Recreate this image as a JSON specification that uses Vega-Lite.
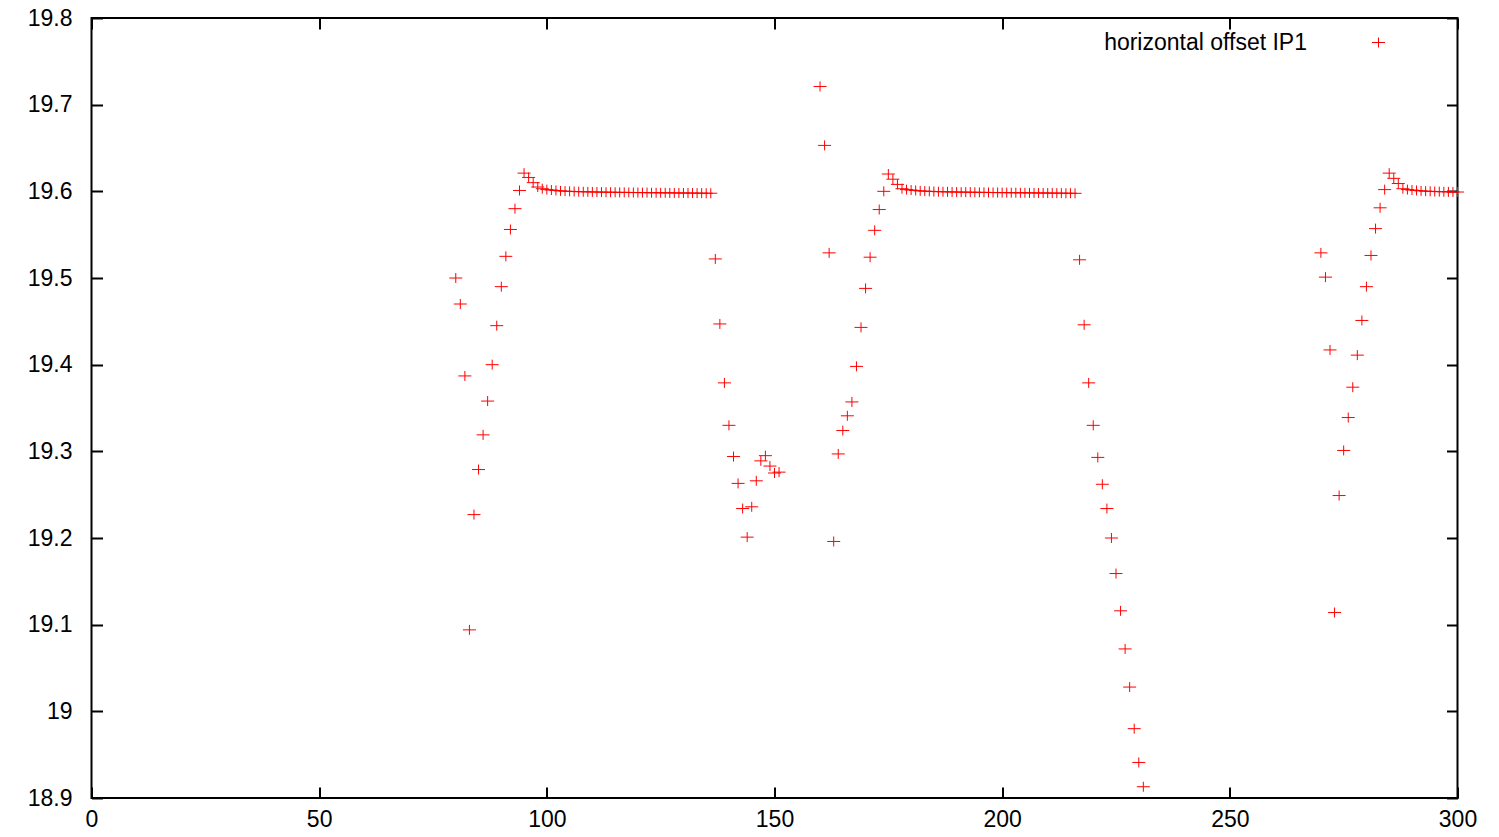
{
  "$schema": "https://vega.github.io/schema/vega-lite/v6.json",
  "width": 1366,
  "height": 780,
  "autosize": {"type": "none"},
  "padding": {"left": 91.5, "top": 18, "right": 41.5, "bottom": 39},
  "background": "white",
  "config": {
    "font": "Liberation Sans",
    "view": {"stroke": "#000000", "strokeWidth": 2},
    "axis": {
      "grid": false,
      "domain": false,
      "tickSize": -11,
      "tickWidth": 2,
      "tickColor": "#000000",
      "labelFont": "Liberation Sans",
      "labelFontSize": 23,
      "labelColor": "#000000",
      "title": null
    }
  },
  "data": {
    "values": [
      {"x": 80, "y": 19.5}, {"x": 81, "y": 19.47}, {"x": 82, "y": 19.387}, {"x": 83, "y": 19.094},
      {"x": 84, "y": 19.227}, {"x": 85, "y": 19.279}, {"x": 86, "y": 19.319}, {"x": 87, "y": 19.358},
      {"x": 88, "y": 19.4}, {"x": 89, "y": 19.445}, {"x": 90, "y": 19.49}, {"x": 91, "y": 19.525},
      {"x": 92, "y": 19.556}, {"x": 93, "y": 19.58}, {"x": 94, "y": 19.601}, {"x": 95, "y": 19.621},
      {"x": 96, "y": 19.616}, {"x": 97, "y": 19.61}, {"x": 98, "y": 19.605}, {"x": 99, "y": 19.603},
      {"x": 100, "y": 19.602}, {"x": 101, "y": 19.6015}, {"x": 102, "y": 19.601}, {"x": 103, "y": 19.6005},
      {"x": 104, "y": 19.6002}, {"x": 105, "y": 19.6}, {"x": 106, "y": 19.5998}, {"x": 107, "y": 19.5996},
      {"x": 108, "y": 19.5995}, {"x": 109, "y": 19.5994}, {"x": 110, "y": 19.5993}, {"x": 111, "y": 19.5992},
      {"x": 112, "y": 19.5991}, {"x": 113, "y": 19.599}, {"x": 114, "y": 19.599}, {"x": 115, "y": 19.5989},
      {"x": 116, "y": 19.5988}, {"x": 117, "y": 19.5988}, {"x": 118, "y": 19.5987}, {"x": 119, "y": 19.5986},
      {"x": 120, "y": 19.5986}, {"x": 121, "y": 19.5985}, {"x": 122, "y": 19.5985}, {"x": 123, "y": 19.5984},
      {"x": 124, "y": 19.5984}, {"x": 125, "y": 19.5983}, {"x": 126, "y": 19.5983}, {"x": 127, "y": 19.5982},
      {"x": 128, "y": 19.5982}, {"x": 129, "y": 19.5981}, {"x": 130, "y": 19.5981}, {"x": 131, "y": 19.598},
      {"x": 132, "y": 19.598}, {"x": 133, "y": 19.5979}, {"x": 134, "y": 19.5979}, {"x": 135, "y": 19.5978},
      {"x": 136, "y": 19.5978},
      {"x": 137, "y": 19.522}, {"x": 138, "y": 19.447}, {"x": 139, "y": 19.379}, {"x": 140, "y": 19.33},
      {"x": 141, "y": 19.294}, {"x": 142, "y": 19.263}, {"x": 143, "y": 19.234}, {"x": 144, "y": 19.201},
      {"x": 145, "y": 19.236}, {"x": 146, "y": 19.266}, {"x": 147, "y": 19.289}, {"x": 148, "y": 19.295},
      {"x": 149, "y": 19.283}, {"x": 150, "y": 19.275}, {"x": 151, "y": 19.276},
      {"x": 160, "y": 19.721}, {"x": 161, "y": 19.653}, {"x": 162, "y": 19.529}, {"x": 163, "y": 19.196},
      {"x": 164, "y": 19.297}, {"x": 165, "y": 19.324}, {"x": 166, "y": 19.341}, {"x": 167, "y": 19.357},
      {"x": 168, "y": 19.398}, {"x": 169, "y": 19.443}, {"x": 170, "y": 19.488}, {"x": 171, "y": 19.524},
      {"x": 172, "y": 19.555}, {"x": 173, "y": 19.579}, {"x": 174, "y": 19.6}, {"x": 175, "y": 19.62},
      {"x": 176, "y": 19.614}, {"x": 177, "y": 19.608}, {"x": 178, "y": 19.603}, {"x": 179, "y": 19.602},
      {"x": 180, "y": 19.6015}, {"x": 181, "y": 19.601}, {"x": 182, "y": 19.6005}, {"x": 183, "y": 19.6002},
      {"x": 184, "y": 19.6}, {"x": 185, "y": 19.5998}, {"x": 186, "y": 19.5996}, {"x": 187, "y": 19.5995},
      {"x": 188, "y": 19.5994}, {"x": 189, "y": 19.5993}, {"x": 190, "y": 19.5992}, {"x": 191, "y": 19.5991},
      {"x": 192, "y": 19.599}, {"x": 193, "y": 19.599}, {"x": 194, "y": 19.5989}, {"x": 195, "y": 19.5988},
      {"x": 196, "y": 19.5988}, {"x": 197, "y": 19.5987}, {"x": 198, "y": 19.5986}, {"x": 199, "y": 19.5986},
      {"x": 200, "y": 19.5985}, {"x": 201, "y": 19.5985}, {"x": 202, "y": 19.5984}, {"x": 203, "y": 19.5984},
      {"x": 204, "y": 19.5983}, {"x": 205, "y": 19.5983}, {"x": 206, "y": 19.5982}, {"x": 207, "y": 19.5982},
      {"x": 208, "y": 19.5981}, {"x": 209, "y": 19.5981}, {"x": 210, "y": 19.598}, {"x": 211, "y": 19.598},
      {"x": 212, "y": 19.5979}, {"x": 213, "y": 19.5979}, {"x": 214, "y": 19.5978}, {"x": 215, "y": 19.5978},
      {"x": 216, "y": 19.5977},
      {"x": 217, "y": 19.521}, {"x": 218, "y": 19.446}, {"x": 219, "y": 19.379}, {"x": 220, "y": 19.33},
      {"x": 221, "y": 19.293}, {"x": 222, "y": 19.262}, {"x": 223, "y": 19.234}, {"x": 224, "y": 19.2},
      {"x": 225, "y": 19.159}, {"x": 226, "y": 19.116}, {"x": 227, "y": 19.072}, {"x": 228, "y": 19.028},
      {"x": 229, "y": 18.98}, {"x": 230, "y": 18.941}, {"x": 231, "y": 18.913},
      {"x": 270, "y": 19.529}, {"x": 271, "y": 19.501}, {"x": 272, "y": 19.417}, {"x": 273, "y": 19.114},
      {"x": 274, "y": 19.249}, {"x": 275, "y": 19.301}, {"x": 276, "y": 19.339}, {"x": 277, "y": 19.374},
      {"x": 278, "y": 19.411}, {"x": 279, "y": 19.451}, {"x": 280, "y": 19.49}, {"x": 281, "y": 19.526},
      {"x": 282, "y": 19.557}, {"x": 283, "y": 19.581}, {"x": 284, "y": 19.602}, {"x": 285, "y": 19.621},
      {"x": 286, "y": 19.615}, {"x": 287, "y": 19.609}, {"x": 288, "y": 19.603}, {"x": 289, "y": 19.602},
      {"x": 290, "y": 19.6015}, {"x": 291, "y": 19.601}, {"x": 292, "y": 19.6005}, {"x": 293, "y": 19.6002},
      {"x": 294, "y": 19.6}, {"x": 295, "y": 19.5998}, {"x": 296, "y": 19.5996}, {"x": 297, "y": 19.5995},
      {"x": 298, "y": 19.5994}, {"x": 299, "y": 19.5993}, {"x": 300, "y": 19.5992}
    ]
  },
  "layer": [
    {
      "mark": {"type": "point", "shape": "M-1.3,0H1.3M0,-1V1", "size": 100, "filled": false, "strokeWidth": 1, "opacity": 1},
      "encoding": {
        "x": {
          "field": "x", "type": "quantitative",
          "scale": {"domain": [0, 300], "nice": false, "zero": false},
          "axis": {"orient": "bottom", "values": [0, 50, 100, 150, 200, 250, 300], "labelPadding": 21, "labelFlush": false, "labelOverlap": false}
        },
        "y": {
          "field": "y", "type": "quantitative",
          "scale": {"domain": [18.9, 19.8], "nice": false, "zero": false},
          "axis": {"orient": "left", "values": [18.9, 19, 19.1, 19.2, 19.3, 19.4, 19.5, 19.6, 19.7, 19.8], "format": "~g", "labelPadding": 30.5, "labelFlush": false, "labelOverlap": false}
        },
        "color": {
          "datum": "horizontal offset IP1", "type": "nominal",
          "scale": {"range": ["#ff0000"]},
          "legend": {
            "title": null,
            "orient": "none",
            "legendX": 1275.5,
            "legendY": 13,
            "padding": 0,
            "symbolType": "M-1.3,0H1.3M0,-1V1",
            "symbolSize": 100,
            "symbolStrokeWidth": 1,
            "symbolFillColor": "transparent",
            "labelFont": "Liberation Sans",
            "labelFontSize": 23,
            "labelColor": "#000000",
            "labelAlign": "right",
            "labelOffset": -83,
            "labelLimit": 0
          }
        }
      }
    },
    {
      "mark": {"type": "point", "shape": "M-1.3,0H1.3M0,-1V1", "size": 100, "filled": false, "opacity": 0},
      "encoding": {
        "x": {
          "field": "x", "type": "quantitative",
          "scale": {"domain": [0, 300], "nice": false, "zero": false},
          "axis": {"orient": "top", "values": [0, 50, 100, 150, 200, 250, 300], "labels": false}
        },
        "y": {
          "field": "y", "type": "quantitative",
          "scale": {"domain": [18.9, 19.8], "nice": false, "zero": false},
          "axis": {"orient": "right", "values": [18.9, 19, 19.1, 19.2, 19.3, 19.4, 19.5, 19.6, 19.7, 19.8], "labels": false}
        }
      }
    }
  ],
  "resolve": {"axis": {"x": "independent", "y": "independent"}}
}
